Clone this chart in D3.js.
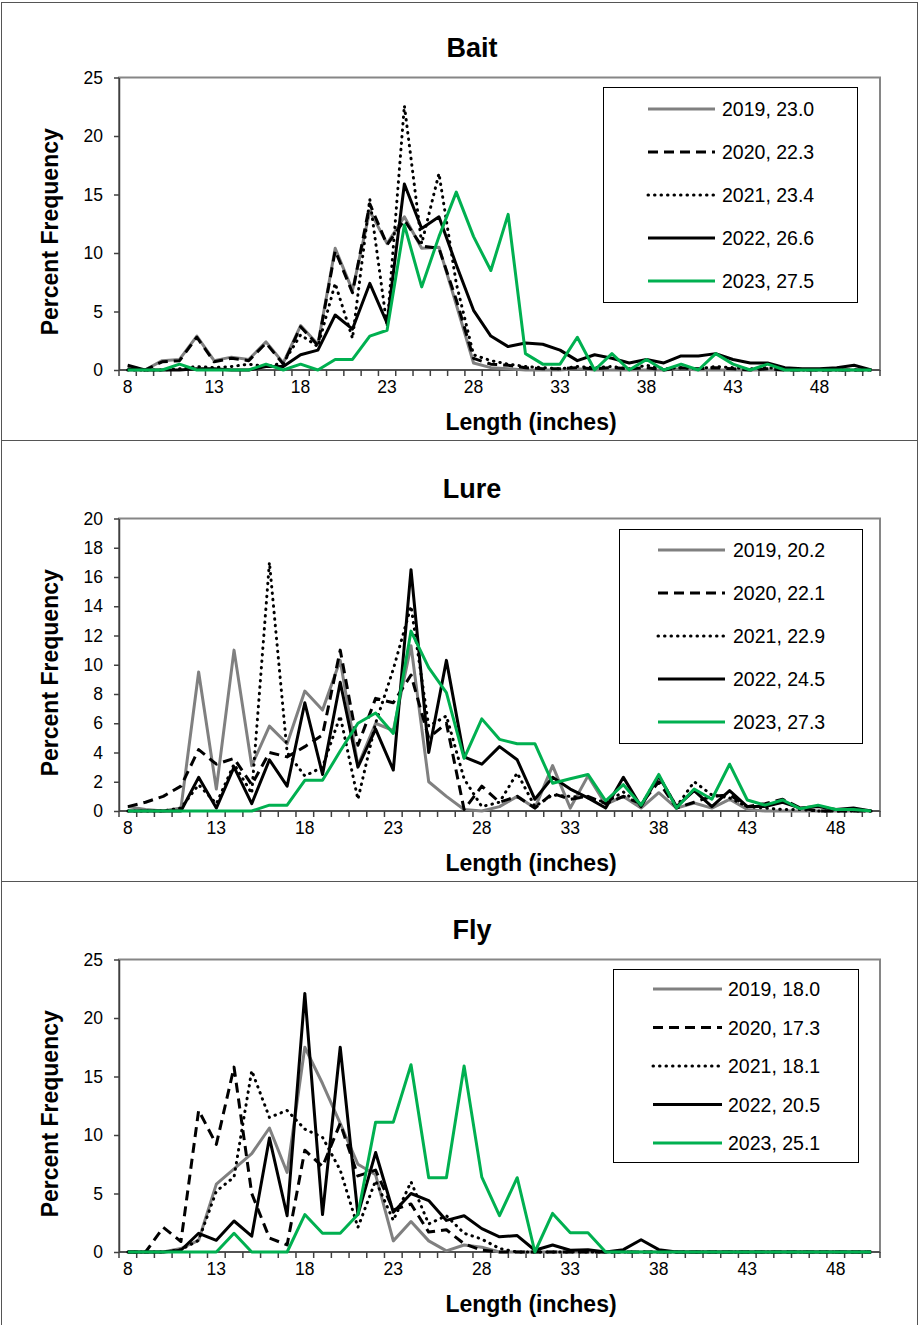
<!DOCTYPE html>
<html>
<head>
<meta charset="utf-8">
<script src="https://cdn.jsdelivr.net/npm/d3@7"></script>
<style>
  body { margin: 0; background: #fff; }
  svg text { font-family: Arial, "Liberation Sans", sans-serif; }
</style>
</head>
<body>
<div id="chart"></div>
<script>
// length classes (inches); bait chart runs one class further than the others
var baitLengths = [8, 9, 10, 11, 12, 13, 14, 15, 16, 17, 18, 19, 20, 21, 22, 23, 24, 25, 26, 27, 28, 29,
  30, 31, 32, 33, 34, 35, 36, 37, 38, 39, 40, 41, 42, 43, 44, 45, 46, 47, 48, 49, 50, 51];
var lengths = [8, 9, 10, 11, 12, 13, 14, 15, 16, 17, 18, 19, 20, 21, 22, 23, 24, 25, 26, 27, 28, 29,
  30, 31, 32, 33, 34, 35, 36, 37, 38, 39, 40, 41, 42, 43, 44, 45, 46, 47, 48, 49, 50];
var xTickLabels = [8, 13, 18, 23, 28, 33, 38, 43, 48];

var years = ['2019', '2020', '2021', '2022', '2023'];
var baitMeans = ['23.0', '22.3', '23.4', '26.6', '27.5'];
var lureMeans = ['20.2', '22.1', '22.9', '24.5', '27.3'];
var flyMeans = ['18.0', '17.3', '18.1', '20.5', '25.1'];

// percent frequency, Bait (8..51)
var bait2019 = [0, 0, 0.8, 0.9, 2.9, 0.8, 1.1, 0.9, 2.4, 0.6, 3.8, 2.2, 10.4, 6.8, 13.6, 10.8, 13.1, 10.4, 10.5, 5.6,
  0.6, 0.2, 0.1, 0, 0, 0, 0.1, 0, 0, 0, 0, 0, 0.1, 0, 0, 0, 0, 0, 0, 0, 0, 0, 0, 0];
var bait2020 = [0.1, 0, 0.7, 0.8, 2.8, 0.7, 1.0, 0.8, 2.3, 0.5, 3.7, 2.1, 10.2, 6.6, 14.2, 10.7, 12.8, 10.6, 10.4, 6.0,
  1.0, 0.5, 0.4, 0.2, 0.1, 0.1, 0.2, 0.1, 0.2, 0.1, 0.2, 0, 0.2, 0.1, 0.2, 0.1, 0, 0.1, 0, 0, 0, 0, 0, 0];
var bait2021 = [0, 0, 0, 0.1, 0.3, 0.2, 0.3, 0.5, 0.3, 0.6, 3.0, 2.0, 7.4, 2.7, 14.6, 3.7, 22.6, 10.8, 16.8, 7.4,
  1.3, 0.8, 0.5, 0.3, 0.2, 0.1, 0.3, 0.2, 0.3, 0.1, 0.4, 0.1, 0.2, 0.1, 0.3, 0.2, 0.1, 0.2, 0.1, 0, 0, 0, 0, 0];
var bait2022 = [0.4, 0, 0, 0, 0.1, 0.1, 0, 0, 0.3, 0.3, 1.3, 1.7, 4.7, 3.5, 7.4, 4.0, 15.9, 12.1, 13.1, 9.0,
  5.1, 2.9, 2.0, 2.3, 2.2, 1.7, 0.8, 1.3, 1.0, 0.6, 0.9, 0.6, 1.2, 1.2, 1.4, 0.9, 0.6, 0.6, 0.2, 0.1, 0.1, 0.2, 0.4, 0];
var bait2023 = [0, 0, 0, 0.5, 0, 0, 0, 0, 0.5, 0, 0.5, 0, 0.9, 0.9, 2.9, 3.4, 12.4, 7.1, 11.4, 15.2,
  11.4, 8.5, 13.3, 1.4, 0.5, 0.5, 2.8, 0, 1.4, 0, 0.9, 0, 0.5, 0, 1.4, 0.5, 0, 0.5, 0, 0, 0, 0, 0, 0];

// percent frequency, Lure (8..50)
var lure2019 = [0.3, 0.1, 0, 0.2, 9.5, 1.5, 11.0, 3.1, 5.8, 4.6, 8.2, 6.9, 10.3, 3.1, 6.0, 5.5, 11.3, 2.0, 1.0, 0.1,
  0, 0.3, 1.0, 0.2, 3.1, 0.2, 2.4, 0.45, 1.0, 0.2, 1.25, 0.2, 0.55, 0.2, 0.8, 0.1, 0, 0, 0, 0, 0, 0, 0];
var lure2020 = [0.3, 0.6, 1.0, 1.7, 4.2, 3.2, 3.6, 1.8, 4.0, 3.7, 4.4, 5.2, 11.0, 4.5, 7.7, 7.4, 9.3, 5.0, 6.0, 0.1,
  1.7, 0.6, 1.0, 0.2, 1.2, 0.8, 1.0, 0.5, 1.0, 0.5, 2.0, 0.2, 0.6, 1.0, 1.1, 0.3, 0.5, 0.8, 0.2, 0, 0, 0, 0];
var lure2021 = [0, 0, 0, 0.2, 1.8, 0.5, 3.2, 1.2, 17.0, 4.0, 2.4, 3.0, 6.5, 0.8, 6.0, 9.7, 14.0, 5.8, 6.5, 2.2,
  0.3, 0.6, 2.6, 0.3, 1.1, 1.0, 0.9, 0.6, 1.3, 0.4, 2.4, 0.3, 2.0, 1.1, 0.9, 0.3, 0.2, 0.1, 0.1, 0, 0, 0, 0];
var lure2022 = [0, 0, 0, 0, 2.3, 0.2, 3.0, 0.5, 3.5, 1.7, 7.4, 2.5, 8.8, 3.0, 5.6, 2.8, 16.5, 4.0, 10.3, 3.7,
  3.2, 4.4, 3.5, 0.8, 2.3, 1.5, 0.9, 0.2, 2.3, 0.3, 2.4, 0.3, 1.4, 0.3, 1.4, 0.3, 0.3, 0.6, 0.2, 0.3, 0.1, 0.2, 0];
var lure2023 = [0, 0, 0, 0, 0, 0, 0, 0, 0.4, 0.4, 2.1, 2.1, 4.1, 6.0, 6.7, 5.3, 12.3, 9.8, 8.1, 3.6,
  6.3, 4.9, 4.6, 4.6, 1.9, 2.2, 2.5, 0.7, 1.8, 0.4, 2.5, 0.2, 1.5, 0.8, 3.2, 0.75, 0.4, 0.75, 0.15, 0.4, 0.1, 0.1, 0];

// percent frequency, Fly (8..50)
var fly2019 = [0, 0, 0, 0.3, 1.0, 5.8, 7.1, 8.4, 10.6, 6.8, 17.5, 14.4, 11.0, 7.5, 6.6, 0.95, 2.6, 0.95, 0.1, 0.6,
  0.4, 0, 0, 0, 0, 0, 0, 0, 0, 0, 0, 0, 0, 0, 0, 0, 0, 0, 0, 0, 0, 0, 0];
var fly2020 = [0, 0, 2.1, 0.9, 12.1, 9.2, 15.8, 5.0, 1.2, 0.6, 8.7, 7.3, 11.0, 6.5, 7.0, 3.6, 4.1, 1.7, 1.9, 0.7,
  0.15, 0, 0, 0, 0, 0, 0, 0, 0, 0, 0, 0, 0, 0, 0, 0, 0, 0, 0, 0, 0, 0, 0];
var fly2021 = [0, 0, 0, 0.2, 1.0, 5.2, 6.4, 15.5, 11.5, 12.1, 10.5, 9.8, 7.0, 2.1, 6.1, 2.7, 6.0, 2.4, 3.1, 1.6,
  1.1, 0.3, 0, 0, 0, 0, 0, 0, 0, 0, 0, 0, 0, 0, 0, 0, 0, 0, 0, 0, 0, 0, 0];
var fly2022 = [0, 0, 0, 0.15, 1.6, 1.0, 2.65, 1.35, 9.75, 3.1, 22.1, 3.2, 17.5, 3.2, 8.5, 3.4, 5.0, 4.4, 2.7, 3.1,
  2.0, 1.3, 1.4, 0.15, 0.6, 0.15, 0.2, 0, 0.2, 1.05, 0.2, 0, 0, 0, 0, 0, 0, 0, 0, 0, 0, 0, 0];
var fly2023 = [0, 0, 0, 0, 0, 0, 1.6, 0, 0, 0, 3.2, 1.6, 1.6, 3.2, 11.1, 11.1, 16.0, 6.35, 6.35, 15.9,
  6.4, 3.1, 6.35, 0, 3.3, 1.65, 1.65, 0, 0, 0, 0, 0, 0, 0, 0, 0, 0, 0, 0, 0, 0, 0, 0];

var yTicks25 = [0, 5, 10, 15, 20, 25];
var yTicks20 = [0, 2, 4, 6, 8, 10, 12, 14, 16, 18, 20];

var seriesColors = ['#808080', '#000000', '#000000', '#000000', '#00b050'];
var seriesDash = [null, '10,6', '0.5,6', null, null];

var panels = [
  { title: 'Bait', lengths: baitLengths, yMax: 25, yTicks: yTicks25, means: baitMeans,
    values: [bait2019, bait2020, bait2021, bait2022, bait2023],
    legend: { x: 603, y: 87, w: 254, h: 215, row0: 109, step: 43, x1: 648, x2: 715, tx: 722 } },
  { title: 'Lure', lengths: lengths, yMax: 20, yTicks: yTicks20, means: lureMeans,
    values: [lure2019, lure2020, lure2021, lure2022, lure2023],
    legend: { x: 619, y: 88, w: 243, h: 214, row0: 109, step: 43, x1: 658, x2: 725, tx: 733 } },
  { title: 'Fly', lengths: lengths, yMax: 25, yTicks: yTicks25, means: flyMeans,
    values: [fly2019, fly2020, fly2021, fly2022, fly2023],
    legend: { x: 613, y: 87, w: 245, h: 193, row0: 107, step: 38.5, x1: 653, x2: 722, tx: 728 } }
];

var W = 920, H = 1325;
var panelH = 441;
var plotL = 119, plotR = 880, plotT = 77.5, plotB = 370;
var font = 'Arial, "Liberation Sans", sans-serif';

var svg = d3.select('#chart').append('svg')
  .attr('width', W)
  .attr('height', H)
  .style('display', 'block');

svg.append('rect').attr('width', W).attr('height', H).attr('fill', '#fff');

// outer frame + separators between the three charts
svg.append('rect')
  .attr('x', 1.5).attr('y', 2.5)
  .attr('width', 916).attr('height', H + 10)
  .attr('fill', 'none').attr('stroke', '#555').attr('stroke-width', 1);
[1, 2].forEach(function(i) {
  svg.append('line')
    .attr('x1', 1.5).attr('x2', 917.5)
    .attr('y1', i * panelH - 0.5).attr('y2', i * panelH - 0.5)
    .attr('stroke', '#555').attr('stroke-width', 1);
});

function drawPanel(p, i) {
  var g = svg.append('g').attr('transform', 'translate(0,' + (i * panelH) + ')');

  var x = d3.scalePoint().domain(p.lengths).range([plotL, plotR]).padding(0.5);
  var xBand = d3.scaleBand().domain(p.lengths).range([plotL, plotR]);
  var y = d3.scaleLinear().domain([0, p.yMax]).range([plotB, plotT]);

  // plot area border
  g.append('rect')
    .attr('x', plotL).attr('y', plotT)
    .attr('width', plotR - plotL).attr('height', plotB - plotT)
    .attr('fill', 'none').attr('stroke', '#868686').attr('stroke-width', 2);

  // y axis
  var ya = g.append('g')
    .attr('transform', 'translate(' + plotL + ',0)')
    .call(d3.axisLeft(y).tickValues(p.yTicks).tickSize(5).tickSizeOuter(0).tickPadding(11))
    .attr('font-family', font)
    .attr('font-size', 17.5);
  ya.select('.domain').attr('stroke', '#404040').attr('stroke-width', 1.5);
  ya.selectAll('.tick line').attr('stroke', '#404040').attr('stroke-width', 1.5);
  ya.selectAll('.tick text').attr('fill', '#000');

  // x axis: tick marks sit between categories, labels every 5 inches
  var edges = p.lengths.map(function(c) { return xBand(c); }).concat([plotR]);
  g.selectAll('.xtick')
    .data(edges)
    .enter()
    .append('line')
    .attr('class', 'xtick')
    .attr('x1', function(d) { return d; })
    .attr('x2', function(d) { return d; })
    .attr('y1', plotB)
    .attr('y2', plotB + 6)
    .attr('stroke', '#404040')
    .attr('stroke-width', 1.5);

  g.append('line')
    .attr('x1', plotL).attr('x2', plotR)
    .attr('y1', plotB).attr('y2', plotB)
    .attr('stroke', '#404040').attr('stroke-width', 1.5);

  g.selectAll('.xlabel')
    .data(xTickLabels)
    .enter()
    .append('text')
    .attr('class', 'xlabel')
    .attr('x', function(d) { return x(d); })
    .attr('y', plotB + 23)
    .attr('text-anchor', 'middle')
    .attr('font-size', 17.5)
    .text(function(d) { return d; });

  // series lines
  var line = d3.line()
    .x(function(d) { return x(d[0]); })
    .y(function(d) { return y(d[1]); });

  p.values.forEach(function(vals, j) {
    var pts = p.lengths.map(function(c, k) { return [c, vals[k]]; });
    g.append('path')
      .datum(pts)
      .attr('d', line)
      .attr('fill', 'none')
      .attr('stroke', seriesColors[j])
      .attr('stroke-width', 3)
      .attr('stroke-linejoin', 'round')
      .attr('stroke-linecap', j === 2 ? 'round' : 'butt')
      .attr('stroke-dasharray', seriesDash[j]);
  });

  // legend
  var lg = p.legend;
  g.append('rect')
    .attr('x', lg.x + 0.5).attr('y', lg.y + 0.5)
    .attr('width', lg.w).attr('height', lg.h)
    .attr('fill', '#fff').attr('stroke', '#000').attr('stroke-width', 1);

  var rows = g.selectAll('.legend')
    .data(years)
    .enter()
    .append('g')
    .attr('class', 'legend')
    .attr('transform', function(d, j) {
      return 'translate(0,' + (lg.row0 + j * lg.step) + ')';
    });

  rows.append('line')
    .attr('x1', lg.x1).attr('x2', lg.x2)
    .attr('y1', 0).attr('y2', 0)
    .attr('stroke', function(d, j) { return seriesColors[j]; })
    .attr('stroke-width', 3)
    .attr('stroke-linecap', function(d, j) { return j === 2 ? 'round' : 'butt'; })
    .attr('stroke-dasharray', function(d, j) { return seriesDash[j]; });

  rows.append('text')
    .attr('x', lg.tx)
    .attr('y', 7)
    .attr('font-size', 19.5)
    .text(function(d, j) { return d + ', ' + p.means[j]; });

  // titles
  g.append('text')
    .attr('x', 472)
    .attr('y', 57)
    .attr('text-anchor', 'middle')
    .attr('font-size', 27)
    .attr('font-weight', 'bold')
    .text(p.title);

  g.append('text')
    .attr('x', 531)
    .attr('y', 430)
    .attr('text-anchor', 'middle')
    .attr('font-size', 23)
    .attr('font-weight', 'bold')
    .text('Length (inches)');

  g.append('text')
    .attr('transform', 'translate(58,' + ((plotT + plotB) / 2 + 8) + ') rotate(-90)')
    .attr('text-anchor', 'middle')
    .attr('font-size', 23)
    .attr('font-weight', 'bold')
    .text('Percent Frequency');
}

panels.forEach(drawPanel);
</script>
</body>
</html>
